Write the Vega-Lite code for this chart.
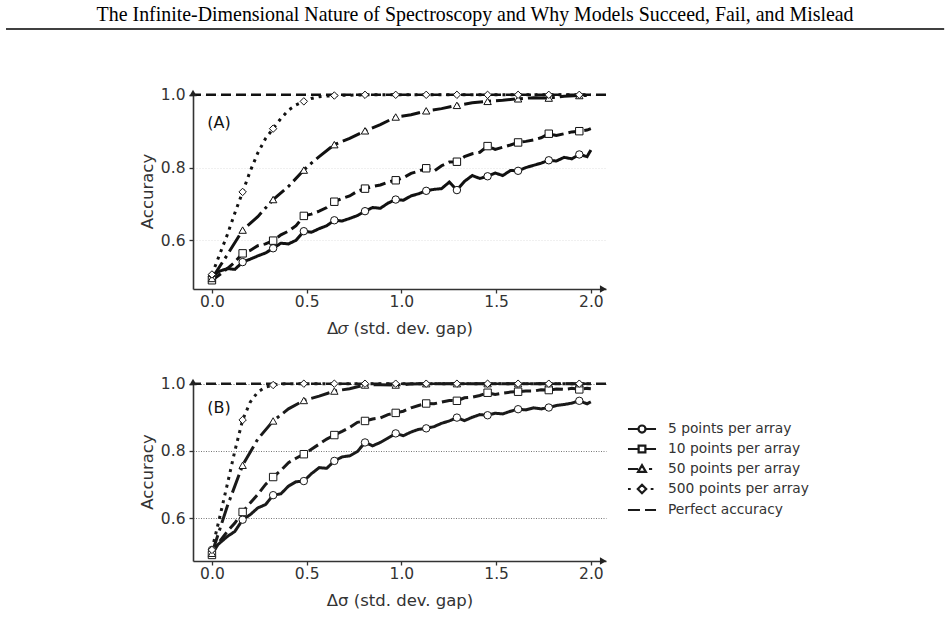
{
  "$schema": "https://vega.github.io/schema/vega-lite/v6.json",
  "padding": {"top": 5, "left": 5, "right": 2, "bottom": 4},
  "title": {"text": "The Infinite-Dimensional Nature of Spectroscopy and Why Models Succeed, Fail, and Mislead", "font": "Liberation Serif", "fontSize": 19.9, "fontWeight": "normal", "color": "#000", "anchor": "middle", "frame": "bounds", "offset": 3},
  "datasets": {
    "lines": [
      {"p":"A","s":"5","x":0,"y":0.5},{"p":"A","s":"5","x":0.04,"y":0.515},{"p":"A","s":"5","x":0.081,"y":0.522},{"p":"A","s":"5","x":0.121,"y":0.52},{"p":"A","s":"5","x":0.162,"y":0.54},{"p":"A","s":"5","x":0.202,"y":0.548},{"p":"A","s":"5","x":0.242,"y":0.557},{"p":"A","s":"5","x":0.283,"y":0.565},{"p":"A","s":"5","x":0.323,"y":0.578},{"p":"A","s":"5","x":0.364,"y":0.592},{"p":"A","s":"5","x":0.404,"y":0.59},{"p":"A","s":"5","x":0.444,"y":0.6},{"p":"A","s":"5","x":0.485,"y":0.625},{"p":"A","s":"5","x":0.525,"y":0.622},{"p":"A","s":"5","x":0.566,"y":0.632},{"p":"A","s":"5","x":0.606,"y":0.64},{"p":"A","s":"5","x":0.646,"y":0.655},{"p":"A","s":"5","x":0.687,"y":0.653},{"p":"A","s":"5","x":0.727,"y":0.66},{"p":"A","s":"5","x":0.768,"y":0.668},{"p":"A","s":"5","x":0.808,"y":0.68},{"p":"A","s":"5","x":0.848,"y":0.69},{"p":"A","s":"5","x":0.889,"y":0.688},{"p":"A","s":"5","x":0.929,"y":0.702},{"p":"A","s":"5","x":0.97,"y":0.712},{"p":"A","s":"5","x":1.01,"y":0.71},{"p":"A","s":"5","x":1.051,"y":0.722},{"p":"A","s":"5","x":1.091,"y":0.728},{"p":"A","s":"5","x":1.131,"y":0.736},{"p":"A","s":"5","x":1.172,"y":0.74},{"p":"A","s":"5","x":1.212,"y":0.742},{"p":"A","s":"5","x":1.253,"y":0.76},{"p":"A","s":"5","x":1.293,"y":0.738},{"p":"A","s":"5","x":1.333,"y":0.762},{"p":"A","s":"5","x":1.374,"y":0.778},{"p":"A","s":"5","x":1.414,"y":0.77},{"p":"A","s":"5","x":1.455,"y":0.776},{"p":"A","s":"5","x":1.495,"y":0.785},{"p":"A","s":"5","x":1.535,"y":0.778},{"p":"A","s":"5","x":1.576,"y":0.792},{"p":"A","s":"5","x":1.616,"y":0.791},{"p":"A","s":"5","x":1.657,"y":0.8},{"p":"A","s":"5","x":1.697,"y":0.806},{"p":"A","s":"5","x":1.737,"y":0.812},{"p":"A","s":"5","x":1.778,"y":0.82},{"p":"A","s":"5","x":1.818,"y":0.818},{"p":"A","s":"5","x":1.859,"y":0.828},{"p":"A","s":"5","x":1.899,"y":0.824},{"p":"A","s":"5","x":1.939,"y":0.836},{"p":"A","s":"5","x":1.98,"y":0.83},{"p":"A","s":"5","x":2,"y":0.848},
      {"p":"A","s":"10","x":0,"y":0.49},{"p":"A","s":"10","x":0.04,"y":0.505},{"p":"A","s":"10","x":0.081,"y":0.522},{"p":"A","s":"10","x":0.121,"y":0.54},{"p":"A","s":"10","x":0.162,"y":0.564},{"p":"A","s":"10","x":0.202,"y":0.572},{"p":"A","s":"10","x":0.242,"y":0.585},{"p":"A","s":"10","x":0.283,"y":0.59},{"p":"A","s":"10","x":0.323,"y":0.599},{"p":"A","s":"10","x":0.364,"y":0.615},{"p":"A","s":"10","x":0.404,"y":0.625},{"p":"A","s":"10","x":0.444,"y":0.64},{"p":"A","s":"10","x":0.485,"y":0.667},{"p":"A","s":"10","x":0.525,"y":0.672},{"p":"A","s":"10","x":0.566,"y":0.68},{"p":"A","s":"10","x":0.606,"y":0.69},{"p":"A","s":"10","x":0.646,"y":0.706},{"p":"A","s":"10","x":0.687,"y":0.715},{"p":"A","s":"10","x":0.727,"y":0.722},{"p":"A","s":"10","x":0.768,"y":0.735},{"p":"A","s":"10","x":0.808,"y":0.742},{"p":"A","s":"10","x":0.848,"y":0.748},{"p":"A","s":"10","x":0.889,"y":0.752},{"p":"A","s":"10","x":0.929,"y":0.76},{"p":"A","s":"10","x":0.97,"y":0.765},{"p":"A","s":"10","x":1.01,"y":0.772},{"p":"A","s":"10","x":1.051,"y":0.784},{"p":"A","s":"10","x":1.091,"y":0.79},{"p":"A","s":"10","x":1.131,"y":0.798},{"p":"A","s":"10","x":1.172,"y":0.79},{"p":"A","s":"10","x":1.212,"y":0.805},{"p":"A","s":"10","x":1.253,"y":0.815},{"p":"A","s":"10","x":1.293,"y":0.816},{"p":"A","s":"10","x":1.333,"y":0.83},{"p":"A","s":"10","x":1.374,"y":0.838},{"p":"A","s":"10","x":1.414,"y":0.842},{"p":"A","s":"10","x":1.455,"y":0.859},{"p":"A","s":"10","x":1.495,"y":0.85},{"p":"A","s":"10","x":1.535,"y":0.856},{"p":"A","s":"10","x":1.576,"y":0.862},{"p":"A","s":"10","x":1.616,"y":0.869},{"p":"A","s":"10","x":1.657,"y":0.872},{"p":"A","s":"10","x":1.697,"y":0.876},{"p":"A","s":"10","x":1.737,"y":0.882},{"p":"A","s":"10","x":1.778,"y":0.893},{"p":"A","s":"10","x":1.818,"y":0.888},{"p":"A","s":"10","x":1.859,"y":0.893},{"p":"A","s":"10","x":1.899,"y":0.898},{"p":"A","s":"10","x":1.939,"y":0.9},{"p":"A","s":"10","x":1.98,"y":0.903},{"p":"A","s":"10","x":2,"y":0.907},
      {"p":"A","s":"50","x":0,"y":0.495},{"p":"A","s":"50","x":0.081,"y":0.56},{"p":"A","s":"50","x":0.162,"y":0.628},{"p":"A","s":"50","x":0.242,"y":0.665},{"p":"A","s":"50","x":0.323,"y":0.712},{"p":"A","s":"50","x":0.404,"y":0.748},{"p":"A","s":"50","x":0.485,"y":0.793},{"p":"A","s":"50","x":0.525,"y":0.812},{"p":"A","s":"50","x":0.566,"y":0.83},{"p":"A","s":"50","x":0.646,"y":0.863},{"p":"A","s":"50","x":0.727,"y":0.88},{"p":"A","s":"50","x":0.808,"y":0.901},{"p":"A","s":"50","x":0.889,"y":0.918},{"p":"A","s":"50","x":0.97,"y":0.939},{"p":"A","s":"50","x":1.051,"y":0.945},{"p":"A","s":"50","x":1.131,"y":0.956},{"p":"A","s":"50","x":1.212,"y":0.962},{"p":"A","s":"50","x":1.293,"y":0.971},{"p":"A","s":"50","x":1.374,"y":0.978},{"p":"A","s":"50","x":1.455,"y":0.982},{"p":"A","s":"50","x":1.535,"y":0.985},{"p":"A","s":"50","x":1.616,"y":0.989},{"p":"A","s":"50","x":1.697,"y":0.992},{"p":"A","s":"50","x":1.778,"y":0.991},{"p":"A","s":"50","x":1.859,"y":0.996},{"p":"A","s":"50","x":1.939,"y":0.998},{"p":"A","s":"50","x":2,"y":0.998},
      {"p":"A","s":"500","x":0,"y":0.506},{"p":"A","s":"500","x":0.04,"y":0.56},{"p":"A","s":"500","x":0.081,"y":0.615},{"p":"A","s":"500","x":0.121,"y":0.675},{"p":"A","s":"500","x":0.162,"y":0.733},{"p":"A","s":"500","x":0.202,"y":0.79},{"p":"A","s":"500","x":0.242,"y":0.84},{"p":"A","s":"500","x":0.283,"y":0.88},{"p":"A","s":"500","x":0.323,"y":0.907},{"p":"A","s":"500","x":0.364,"y":0.935},{"p":"A","s":"500","x":0.404,"y":0.958},{"p":"A","s":"500","x":0.444,"y":0.972},{"p":"A","s":"500","x":0.485,"y":0.982},{"p":"A","s":"500","x":0.525,"y":0.99},{"p":"A","s":"500","x":0.566,"y":0.995},{"p":"A","s":"500","x":0.646,"y":0.998},{"p":"A","s":"500","x":0.808,"y":1},{"p":"A","s":"500","x":0.97,"y":1},{"p":"A","s":"500","x":1.131,"y":1},{"p":"A","s":"500","x":1.293,"y":1},{"p":"A","s":"500","x":1.455,"y":1},{"p":"A","s":"500","x":1.616,"y":1},{"p":"A","s":"500","x":1.778,"y":1},{"p":"A","s":"500","x":1.939,"y":1},{"p":"A","s":"500","x":2,"y":1},
      {"p":"B","s":"5","x":0,"y":0.505},{"p":"B","s":"5","x":0.04,"y":0.525},{"p":"B","s":"5","x":0.081,"y":0.545},{"p":"B","s":"5","x":0.121,"y":0.56},{"p":"B","s":"5","x":0.162,"y":0.595},{"p":"B","s":"5","x":0.202,"y":0.61},{"p":"B","s":"5","x":0.242,"y":0.63},{"p":"B","s":"5","x":0.283,"y":0.64},{"p":"B","s":"5","x":0.323,"y":0.668},{"p":"B","s":"5","x":0.364,"y":0.672},{"p":"B","s":"5","x":0.404,"y":0.695},{"p":"B","s":"5","x":0.444,"y":0.708},{"p":"B","s":"5","x":0.485,"y":0.71},{"p":"B","s":"5","x":0.525,"y":0.732},{"p":"B","s":"5","x":0.566,"y":0.75},{"p":"B","s":"5","x":0.606,"y":0.748},{"p":"B","s":"5","x":0.646,"y":0.77},{"p":"B","s":"5","x":0.687,"y":0.782},{"p":"B","s":"5","x":0.727,"y":0.785},{"p":"B","s":"5","x":0.768,"y":0.798},{"p":"B","s":"5","x":0.808,"y":0.825},{"p":"B","s":"5","x":0.848,"y":0.815},{"p":"B","s":"5","x":0.889,"y":0.825},{"p":"B","s":"5","x":0.929,"y":0.838},{"p":"B","s":"5","x":0.97,"y":0.852},{"p":"B","s":"5","x":1.01,"y":0.845},{"p":"B","s":"5","x":1.051,"y":0.856},{"p":"B","s":"5","x":1.091,"y":0.864},{"p":"B","s":"5","x":1.131,"y":0.867},{"p":"B","s":"5","x":1.172,"y":0.872},{"p":"B","s":"5","x":1.212,"y":0.882},{"p":"B","s":"5","x":1.253,"y":0.889},{"p":"B","s":"5","x":1.293,"y":0.899},{"p":"B","s":"5","x":1.333,"y":0.89},{"p":"B","s":"5","x":1.374,"y":0.9},{"p":"B","s":"5","x":1.414,"y":0.908},{"p":"B","s":"5","x":1.455,"y":0.906},{"p":"B","s":"5","x":1.495,"y":0.912},{"p":"B","s":"5","x":1.535,"y":0.91},{"p":"B","s":"5","x":1.576,"y":0.918},{"p":"B","s":"5","x":1.616,"y":0.924},{"p":"B","s":"5","x":1.657,"y":0.922},{"p":"B","s":"5","x":1.697,"y":0.928},{"p":"B","s":"5","x":1.737,"y":0.925},{"p":"B","s":"5","x":1.778,"y":0.929},{"p":"B","s":"5","x":1.818,"y":0.935},{"p":"B","s":"5","x":1.859,"y":0.938},{"p":"B","s":"5","x":1.899,"y":0.942},{"p":"B","s":"5","x":1.939,"y":0.949},{"p":"B","s":"5","x":1.98,"y":0.94},{"p":"B","s":"5","x":2,"y":0.946},
      {"p":"B","s":"10","x":0,"y":0.49},{"p":"B","s":"10","x":0.04,"y":0.53},{"p":"B","s":"10","x":0.081,"y":0.56},{"p":"B","s":"10","x":0.121,"y":0.585},{"p":"B","s":"10","x":0.162,"y":0.618},{"p":"B","s":"10","x":0.202,"y":0.645},{"p":"B","s":"10","x":0.242,"y":0.67},{"p":"B","s":"10","x":0.283,"y":0.7},{"p":"B","s":"10","x":0.323,"y":0.722},{"p":"B","s":"10","x":0.364,"y":0.742},{"p":"B","s":"10","x":0.404,"y":0.765},{"p":"B","s":"10","x":0.444,"y":0.778},{"p":"B","s":"10","x":0.485,"y":0.79},{"p":"B","s":"10","x":0.525,"y":0.805},{"p":"B","s":"10","x":0.566,"y":0.82},{"p":"B","s":"10","x":0.606,"y":0.835},{"p":"B","s":"10","x":0.646,"y":0.847},{"p":"B","s":"10","x":0.687,"y":0.858},{"p":"B","s":"10","x":0.727,"y":0.87},{"p":"B","s":"10","x":0.768,"y":0.885},{"p":"B","s":"10","x":0.808,"y":0.889},{"p":"B","s":"10","x":0.848,"y":0.895},{"p":"B","s":"10","x":0.889,"y":0.898},{"p":"B","s":"10","x":0.929,"y":0.908},{"p":"B","s":"10","x":0.97,"y":0.913},{"p":"B","s":"10","x":1.01,"y":0.918},{"p":"B","s":"10","x":1.051,"y":0.928},{"p":"B","s":"10","x":1.091,"y":0.935},{"p":"B","s":"10","x":1.131,"y":0.941},{"p":"B","s":"10","x":1.172,"y":0.94},{"p":"B","s":"10","x":1.212,"y":0.945},{"p":"B","s":"10","x":1.253,"y":0.95},{"p":"B","s":"10","x":1.293,"y":0.949},{"p":"B","s":"10","x":1.333,"y":0.958},{"p":"B","s":"10","x":1.374,"y":0.96},{"p":"B","s":"10","x":1.414,"y":0.965},{"p":"B","s":"10","x":1.455,"y":0.973},{"p":"B","s":"10","x":1.495,"y":0.968},{"p":"B","s":"10","x":1.535,"y":0.972},{"p":"B","s":"10","x":1.576,"y":0.975},{"p":"B","s":"10","x":1.616,"y":0.976},{"p":"B","s":"10","x":1.657,"y":0.978},{"p":"B","s":"10","x":1.697,"y":0.978},{"p":"B","s":"10","x":1.737,"y":0.982},{"p":"B","s":"10","x":1.778,"y":0.981},{"p":"B","s":"10","x":1.818,"y":0.984},{"p":"B","s":"10","x":1.859,"y":0.983},{"p":"B","s":"10","x":1.899,"y":0.986},{"p":"B","s":"10","x":1.939,"y":0.983},{"p":"B","s":"10","x":1.98,"y":0.986},{"p":"B","s":"10","x":2,"y":0.985},
      {"p":"B","s":"50","x":0,"y":0.495},{"p":"B","s":"50","x":0.081,"y":0.635},{"p":"B","s":"50","x":0.162,"y":0.757},{"p":"B","s":"50","x":0.242,"y":0.835},{"p":"B","s":"50","x":0.323,"y":0.889},{"p":"B","s":"50","x":0.404,"y":0.925},{"p":"B","s":"50","x":0.485,"y":0.95},{"p":"B","s":"50","x":0.566,"y":0.963},{"p":"B","s":"50","x":0.646,"y":0.978},{"p":"B","s":"50","x":0.727,"y":0.985},{"p":"B","s":"50","x":0.808,"y":0.996},{"p":"B","s":"50","x":0.889,"y":0.997},{"p":"B","s":"50","x":0.97,"y":0.996},{"p":"B","s":"50","x":1.051,"y":0.999},{"p":"B","s":"50","x":1.131,"y":1},{"p":"B","s":"50","x":1.293,"y":1},{"p":"B","s":"50","x":1.455,"y":1},{"p":"B","s":"50","x":1.616,"y":1},{"p":"B","s":"50","x":1.778,"y":1},{"p":"B","s":"50","x":1.939,"y":1},{"p":"B","s":"50","x":2,"y":1},
      {"p":"B","s":"500","x":0,"y":0.505},{"p":"B","s":"500","x":0.04,"y":0.6},{"p":"B","s":"500","x":0.081,"y":0.7},{"p":"B","s":"500","x":0.121,"y":0.8},{"p":"B","s":"500","x":0.162,"y":0.892},{"p":"B","s":"500","x":0.202,"y":0.945},{"p":"B","s":"500","x":0.242,"y":0.975},{"p":"B","s":"500","x":0.283,"y":0.99},{"p":"B","s":"500","x":0.323,"y":0.996},{"p":"B","s":"500","x":0.364,"y":0.999},{"p":"B","s":"500","x":0.404,"y":1},{"p":"B","s":"500","x":0.485,"y":1},{"p":"B","s":"500","x":0.646,"y":1},{"p":"B","s":"500","x":0.808,"y":1},{"p":"B","s":"500","x":0.97,"y":1},{"p":"B","s":"500","x":1.131,"y":1},{"p":"B","s":"500","x":1.293,"y":1},{"p":"B","s":"500","x":1.455,"y":1},{"p":"B","s":"500","x":1.616,"y":1},{"p":"B","s":"500","x":1.778,"y":1},{"p":"B","s":"500","x":1.939,"y":1},{"p":"B","s":"500","x":2,"y":1}
    ],
    "legend": [{"lab":"5 points per array"},{"lab":"10 points per array"},{"lab":"50 points per array"},{"lab":"500 points per array"},{"lab":"Perfect accuracy"}]
  },
  "vconcat": [
    {
      "width": 413, "height": 196,
      "layer": [
        {"data": {"values": [{}]}, "mark": {"type": "rule", "stroke": "#000", "strokeWidth": 1.5, "clip": false},
         "encoding": {"x": {"datum": -1.087}, "x2": {"datum": 3.865}, "y": {"datum": 1.181}}},
        {"data": {"name": "lines"}, "transform": [{"filter": "datum.p === 'A'"}],
         "mark": {"type": "line", "strokeWidth": 3, "color": "#111"},
         "encoding": {
           "x": {"field": "x", "type": "quantitative", "scale": {"domain": [-0.1, 2.08], "nice": false, "zero": false},
                 "axis": {"values": [0, 0.5, 1, 1.5, 2], "format": ".1f", "title": "Δ𝜎 (std. dev. gap)", "labelPadding": 1, "titlePadding": 11}},
           "y": {"field": "y", "type": "quantitative", "scale": {"domain": [0.466, 1.005], "nice": false, "zero": false},
                 "axis": {"values": [0.6, 0.8, 1.0], "format": ".1f", "title": "Accuracy", "grid": true, "gridColor": "#d9d9d9", "gridDash": [1, 2], "gridWidth": 0.8, "labelPadding": 4, "titlePadding": 5}},
           "strokeDash": {"field": "s", "type": "nominal", "scale": {"domain": ["5", "10", "50", "500"], "range": [[1, 0], [11, 5], [19, 5, 3, 5], [3, 5]]}, "legend": null}
         }},
        {"data": {"values": [{}]}, "mark": {"type": "rule", "strokeDash": [10, 5], "strokeWidth": 2.5, "color": "#111"},
         "encoding": {"y": {"datum": 1}}},
        {"data": {"name": "lines"}, "transform": [{"filter": "datum.p === 'A'"}, {"filter": {"field": "x", "oneOf": [0, 0.162, 0.323, 0.485, 0.646, 0.808, 0.97, 1.131, 1.293, 1.455, 1.616, 1.778, 1.939]}}],
         "mark": {"type": "point", "filled": true, "fill": "white", "stroke": "#111", "strokeWidth": 1, "size": 55, "opacity": 1},
         "encoding": {
           "x": {"field": "x", "type": "quantitative"},
           "y": {"field": "y", "type": "quantitative"},
           "shape": {"field": "s", "type": "nominal", "scale": {"domain": ["5", "10", "50", "500"], "range": ["circle", "square", "triangle-up", "diamond"]}, "legend": null}
         }},
        {"data": {"values": [{}]}, "mark": {"type": "point", "shape": "triangle-up", "filled": true, "color": "#222", "size": 55, "clip": false, "opacity": 1},
         "encoding": {"x": {"datum": -0.1}, "y": {"datum": 1.005}}},
        {"data": {"values": [{}]}, "mark": {"type": "point", "shape": "triangle-right", "filled": true, "color": "#222", "size": 55, "clip": false, "opacity": 1},
         "encoding": {"x": {"datum": 2.065}, "y": {"datum": 0.466}}},
        {"data": {"values": [{}]}, "mark": {"type": "text", "text": "(A)", "align": "left", "baseline": "middle", "fontSize": 16, "font": "DejaVu Sans", "color": "#111"},
         "encoding": {"x": {"datum": -0.025}, "y": {"datum": 0.923}}}
      ]
    },
    {
      "width": 413, "height": 179,
      "resolve": {"scale": {"shape": "independent"}, "legend": {"shape": "independent"}},
      "layer": [
        {"data": {"name": "lines"}, "transform": [{"filter": "datum.p === 'B'"}],
         "mark": {"type": "line", "strokeWidth": 3, "color": "#1a1a1a"},
         "encoding": {
           "x": {"field": "x", "type": "quantitative", "scale": {"domain": [-0.1, 2.08], "nice": false, "zero": false},
                 "axis": {"values": [0, 0.5, 1, 1.5, 2], "format": ".1f", "title": "Δσ (std. dev. gap)", "labelPadding": 1, "titlePadding": 11}},
           "y": {"field": "y", "type": "quantitative", "scale": {"domain": [0.472, 1.005], "nice": false, "zero": false},
                 "axis": {"values": [0.6, 0.8, 1.0], "format": ".1f", "title": "Accuracy", "grid": true, "gridColor": "#555", "gridDash": [1, 1.5], "gridWidth": 0.8, "labelPadding": 4, "titlePadding": 5}},
           "strokeDash": {"field": "s", "type": "nominal", "scale": {"domain": ["5", "10", "50", "500"], "range": [[1, 0], [11, 5], [19, 5, 3, 5], [3, 5]]}, "legend": null}
         }},
        {"data": {"values": [{}]}, "mark": {"type": "rule", "strokeDash": [10, 5], "strokeWidth": 2.5, "color": "#1a1a1a"},
         "encoding": {"y": {"datum": 1}}},
        {"data": {"name": "lines"}, "transform": [{"filter": "datum.p === 'B'"}, {"filter": {"field": "x", "oneOf": [0, 0.162, 0.323, 0.485, 0.646, 0.808, 0.97, 1.131, 1.293, 1.455, 1.616, 1.778, 1.939]}}],
         "mark": {"type": "point", "filled": true, "fill": "white", "stroke": "#1a1a1a", "strokeWidth": 1, "size": 55, "opacity": 1},
         "encoding": {
           "x": {"field": "x", "type": "quantitative"},
           "y": {"field": "y", "type": "quantitative"},
           "shape": {"field": "s", "type": "nominal", "scale": {"domain": ["5", "10", "50", "500"], "range": ["circle", "square", "triangle-up", "diamond"]}, "legend": null}
         }},
        {"data": {"values": [{}]}, "mark": {"type": "point", "shape": "triangle-up", "filled": true, "color": "#222", "size": 55, "clip": false, "opacity": 1},
         "encoding": {"x": {"datum": -0.1}, "y": {"datum": 1.005}}},
        {"data": {"values": [{}]}, "mark": {"type": "point", "shape": "triangle-right", "filled": true, "color": "#222", "size": 55, "clip": false, "opacity": 1},
         "encoding": {"x": {"datum": 2.065}, "y": {"datum": 0.472}}},
        {"data": {"values": [{}]}, "mark": {"type": "text", "text": "(B)", "align": "left", "baseline": "middle", "fontSize": 16, "font": "DejaVu Sans", "color": "#111"},
         "encoding": {"x": {"datum": -0.025}, "y": {"datum": 0.928}}},
        {"data": {"name": "legend"}, "transform": [{"filter": "false"}],
         "mark": {"type": "point", "filled": false, "color": "#1a1a1a", "strokeWidth": 2.2, "size": 225},
         "encoding": {
           "shape": {"field": "lab", "type": "nominal",
             "scale": {"domain": ["5 points per array", "10 points per array", "50 points per array", "500 points per array", "Perfect accuracy"],
                       "range": ["M-1.87,0H-0.47M0.47,0H1.87M0.47,0A0.47,0.47,0,1,1,-0.47,0A0.47,0.47,0,1,1,0.47,0Z", "M-1.87,0H-0.45M0.45,0H1.87M-0.45,-0.45H0.45V0.45H-0.45Z", "M-1.87,0H-0.52M0.93,0H1.35M-0.52,0.38L0,-0.52L0.52,0.38Z", "M-1.87,0H-1.5M1.16,0H1.53M0,-0.56L0.56,0L0,0.56L-0.56,0Z", "M-1.87,0H-0.27M0.4,0H1.87"]},
             "legend": {"orient": "none", "legendX": 440, "legendY": 38, "title": null, "padding": 0, "labelFont": "DejaVu Sans", "labelFontSize": 13.8, "labelColor": "#333", "labelOffset": 17, "symbolSize": 225, "symbolStrokeWidth": 2.2, "symbolStrokeColor": "#1a1a1a", "symbolOpacity": 1, "rowPadding": 3}}
         }}
      ]
    }
  ],
  "spacing": 39,
  "resolve": {"scale": {"shape": "independent"}, "legend": {"shape": "independent"}},
  "config": {
    "view": {"stroke": null},
    "font": "DejaVu Sans",
    "axis": {"domainColor": "#333", "domainWidth": 1.6, "tickColor": "#333", "tickWidth": 1.3, "tickSize": 4, "labelFont": "DejaVu Sans", "labelFontSize": 15.5, "labelColor": "#333", "titleFont": "DejaVu Sans", "titleFontSize": 16.5, "titleColor": "#333", "titleFontWeight": "normal", "grid": false}
  }
}
